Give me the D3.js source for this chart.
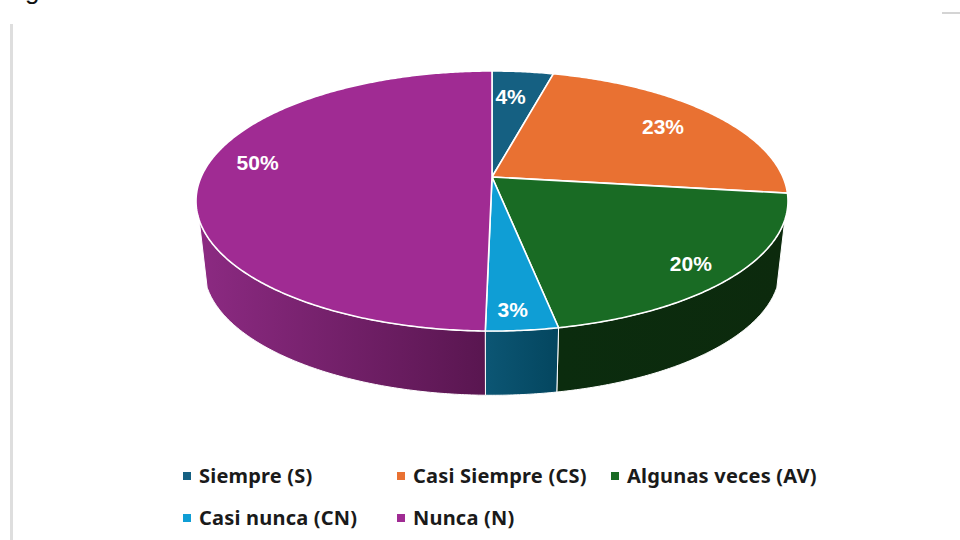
<!DOCTYPE html>
<html>
<head>
<meta charset="utf-8">
<script src="https://cdn.jsdelivr.net/npm/d3@7"></script>
<style>
  html, body { margin: 0; padding: 0; background: #fff; }
  svg { display: block; }
  .pct { font-family: "Liberation Sans", sans-serif; font-weight: 700; font-size: 21px; fill: #fff; text-anchor: middle; }
  .leg { font-family: "Noto Sans", sans-serif; font-weight: 700; font-size: 20px; letter-spacing: 0.2px; fill: #1a1a1a; }
</style>
</head>
<body>
<script>
var categories = ["Siempre (S)", "Casi Siempre (CS)", "Algunas veces (AV)", "Casi nunca (CN)", "Nunca (N)"];
var shares = [4, 23, 20, 3.3, 49.7];

var topColors = ["#156082", "#E97132", "#196B24", "#0F9ED5", "#A02B93"];
var wallLeft = ["#0c4a66", "#8a4420", "#0b2c0e", "#0c5674", "#8c2a82"];
var wallRight = ["#0c4a66", "#8a4420", "#0c2a0d", "#04465f", "#591650"];

// layout, pixels
var width = 960, height = 540;
var cx = 492, apexY = 177, lowerY = 245.4;
var rimX = 290.9, rimY = 125.6, lowerScale = 0.973;
var persp = 0.1846;
var wallFrom = 108.8 * Math.PI / 180, wallTo = 251.2 * Math.PI / 180;
var labelNudge = [[-4, -3], [14, -4], [36, 21], [1, 32], [-31, -14]];

var svg = d3.select("body").append("svg")
    .attr("width", width)
    .attr("height", height);

var defs = svg.append("defs");

// unit circle -> screen, r is 0..1 of the radius, a is clockwise from the top
function project(r, a, lower) {
  var u = r * Math.sin(a), v = -r * Math.cos(a);
  var d = 1 - persp * v;
  var k = lower ? lowerScale : 1;
  return [cx + rimX * k * u / d, (lower ? lowerY : apexY) + rimY * k * v / d];
}

function angles(a0, a1) {
  var n = Math.max(2, Math.ceil((a1 - a0) / 0.01));
  return d3.range(n + 1).map(function(i) { return a0 + (a1 - a0) * i / n; });
}

var line = d3.line();
var color = d3.scaleOrdinal().domain(categories).range(topColors);
var pie = d3.pie().sort(null).value(function(d) { return d.value; });
var slices = pie(categories.map(function(c, i) { return { name: c, value: shares[i], i: i }; }));
var pct = d3.format(".0%");
var total = d3.sum(shares);

// page leftovers around the pasted chart
svg.append("rect").attr("x", 10).attr("y", 24).attr("width", 3).attr("height", 516).attr("fill", "#dedede");
svg.append("rect").attr("x", 942).attr("y", 12).attr("width", 18).attr("height", 2).attr("fill", "#d4d4d4");
svg.append("text").attr("x", 25).attr("y", -1)
    .style("font-family", "Liberation Sans, sans-serif").style("font-size", "26px").attr("fill", "#111").text("g");

// side walls, only the part that faces the viewer
var walls = slices.filter(function(s) { return s.endAngle > wallFrom && s.startAngle < wallTo; });

walls.forEach(function(s) {
  var a0 = Math.max(s.startAngle, wallFrom), a1 = Math.min(s.endAngle, wallTo);
  var xs = d3.extent(angles(a0, a1), function(a) { return project(1, a)[0]; });
  var g = defs.append("linearGradient")
      .attr("id", "wall" + s.data.i)
      .attr("gradientUnits", "userSpaceOnUse")
      .attr("x1", xs[0]).attr("x2", xs[1]).attr("y1", 0).attr("y2", 0);
  g.append("stop").attr("offset", 0).attr("stop-color", wallLeft[s.data.i]);
  g.append("stop").attr("offset", 1).attr("stop-color", wallRight[s.data.i]);
});

svg.append("g").selectAll("path")
    .data(walls)
  .enter().append("path")
    .attr("d", function(s) {
      var as = angles(Math.max(s.startAngle, wallFrom), Math.min(s.endAngle, wallTo));
      var up = as.map(function(a) { return project(1, a, false); });
      var down = as.slice().reverse().map(function(a) { return project(1, a, true); });
      return line(up.concat(down)) + "Z";
    })
    .attr("fill", function(s) { return "url(#wall" + s.data.i + ")"; })
    .attr("stroke", "#fff")
    .attr("stroke-width", 1);

// top face
svg.append("g").selectAll("path")
    .data(slices)
  .enter().append("path")
    .attr("d", function(s) {
      var pts = angles(s.startAngle, s.endAngle).map(function(a) { return project(1, a); });
      return line([project(0, 0)].concat(pts)) + "Z";
    })
    .attr("fill", function(s) { return color(s.data.name); })
    .attr("stroke", "#fff")
    .attr("stroke-width", 1.6)
    .attr("stroke-linejoin", "round");

svg.append("g").selectAll("text")
    .data(slices)
  .enter().append("text")
    .attr("class", "pct")
    .attr("x", function(s) { return project(0.7, (s.startAngle + s.endAngle) / 2)[0] + labelNudge[s.data.i][0]; })
    .attr("y", function(s) { return project(0.7, (s.startAngle + s.endAngle) / 2)[1] + labelNudge[s.data.i][1]; })
    .attr("dy", "0.35em")
    .text(function(s) { return pct(s.data.value / total); });

// legend, three columns
var legCol = d3.scalePoint().domain([0, 1, 2]).range([183, 611]);
var legRow = d3.scalePoint().domain([0, 1]).range([476, 518]);

var leg = svg.append("g").selectAll("g")
    .data(categories)
  .enter().append("g")
    .attr("transform", function(d, i) { return "translate(" + legCol(i % 3) + "," + legRow(Math.floor(i / 3)) + ")"; });

leg.append("rect")
    .attr("y", -4).attr("width", 8).attr("height", 8)
    .attr("fill", function(d) { return color(d); });

leg.append("text")
    .attr("class", "leg")
    .attr("x", 16)
    .attr("dy", "0.35em")
    .text(function(d) { return d; });
</script>
</body>
</html>
